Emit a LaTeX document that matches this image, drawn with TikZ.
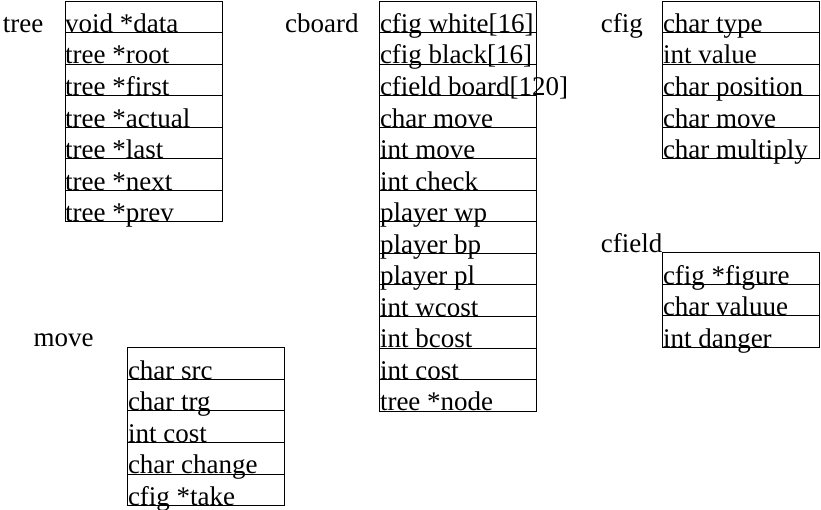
\documentclass[tikz,border=0pt]{standalone}
\usepackage{fontspec}
\setmainfont{Liberation Serif}
\begin{document}
\begin{tikzpicture}[x=1pt,y=1pt,
  rowbox/.style={draw=black,line width=0.9pt,rectangle,inner sep=0pt,
    minimum width=157pt,minimum height=31.55pt,anchor=north west},
  fieldtext/.style={anchor=base west,inner sep=0pt,font=\fontsize{27}{30}\selectfont},
  titletext/.style={anchor=base west,inner sep=0pt,font=\fontsize{27}{30}\selectfont}]
\useasboundingbox (0,0) rectangle (821,-509);
\def\R{31.55}
% tree
\node[titletext] (treetitle) at (2.7,-32) {tree};
\foreach \f [count=\i] in {{void *data},{tree *root},{tree *first},{tree *actual},{tree *last},{tree *next},{tree *prev}} {
  \node[rowbox] (tree-\i) at (64.5,{-0.5-(\i-1)*\R}) {};
  \node[fieldtext] (treef-\i) at ([xshift=0.5pt,yshift=0.6pt]tree-\i.south west) {\f};
}
% cboard
\node[titletext] (cboardtitle) at (285,-32) {cboard};
\foreach \f [count=\i] in {{cfig white[16]},{cfig black[16]},{cfield board[120]},{char move},{int move},{int check},{player wp},{player bp},{player pl},{int wcost},{int bcost},{int cost},{tree *node}} {
  \node[rowbox] (cboard-\i) at (379.3,{-0.5-(\i-1)*\R}) {};
  \node[fieldtext] (cboardf-\i) at ([xshift=0.5pt,yshift=0.6pt]cboard-\i.south west) {\f};
}
% cfig
\node[titletext] (cfigtitle) at (600.7,-32) {cfig};
\foreach \f [count=\i] in {{char type},{int value},{char position},{char move},{char multiply}} {
  \node[rowbox] (cfig-\i) at (662.3,{-0.5-(\i-1)*\R}) {};
  \node[fieldtext] (cfigf-\i) at ([xshift=0.5pt,yshift=0.6pt]cfig-\i.south west) {\f};
}
% cfield
\node[titletext] (cfieldtitle) at (600.7,-252.3) {cfield};
\foreach \f [count=\i] in {{cfig *figure},{char valuue},{int danger}} {
  \node[rowbox] (cfield-\i) at (662.3,{-252.3-(\i-1)*\R}) {};
  \node[fieldtext] (cfieldf-\i) at ([xshift=0.5pt,yshift=0.6pt]cfield-\i.south west) {\f};
}
% move
\node[titletext] (movetitle) at (33.3,-346.8) {move};
\foreach \f [count=\i] in {{char src},{char trg},{int cost},{char change},{cfig *take}} {
  \node[rowbox] (move-\i) at (127.3,{-347.3-(\i-1)*\R}) {};
  \node[fieldtext] (movef-\i) at ([xshift=0.5pt,yshift=0.6pt]move-\i.south west) {\f};
}
\end{tikzpicture}
\end{document}
